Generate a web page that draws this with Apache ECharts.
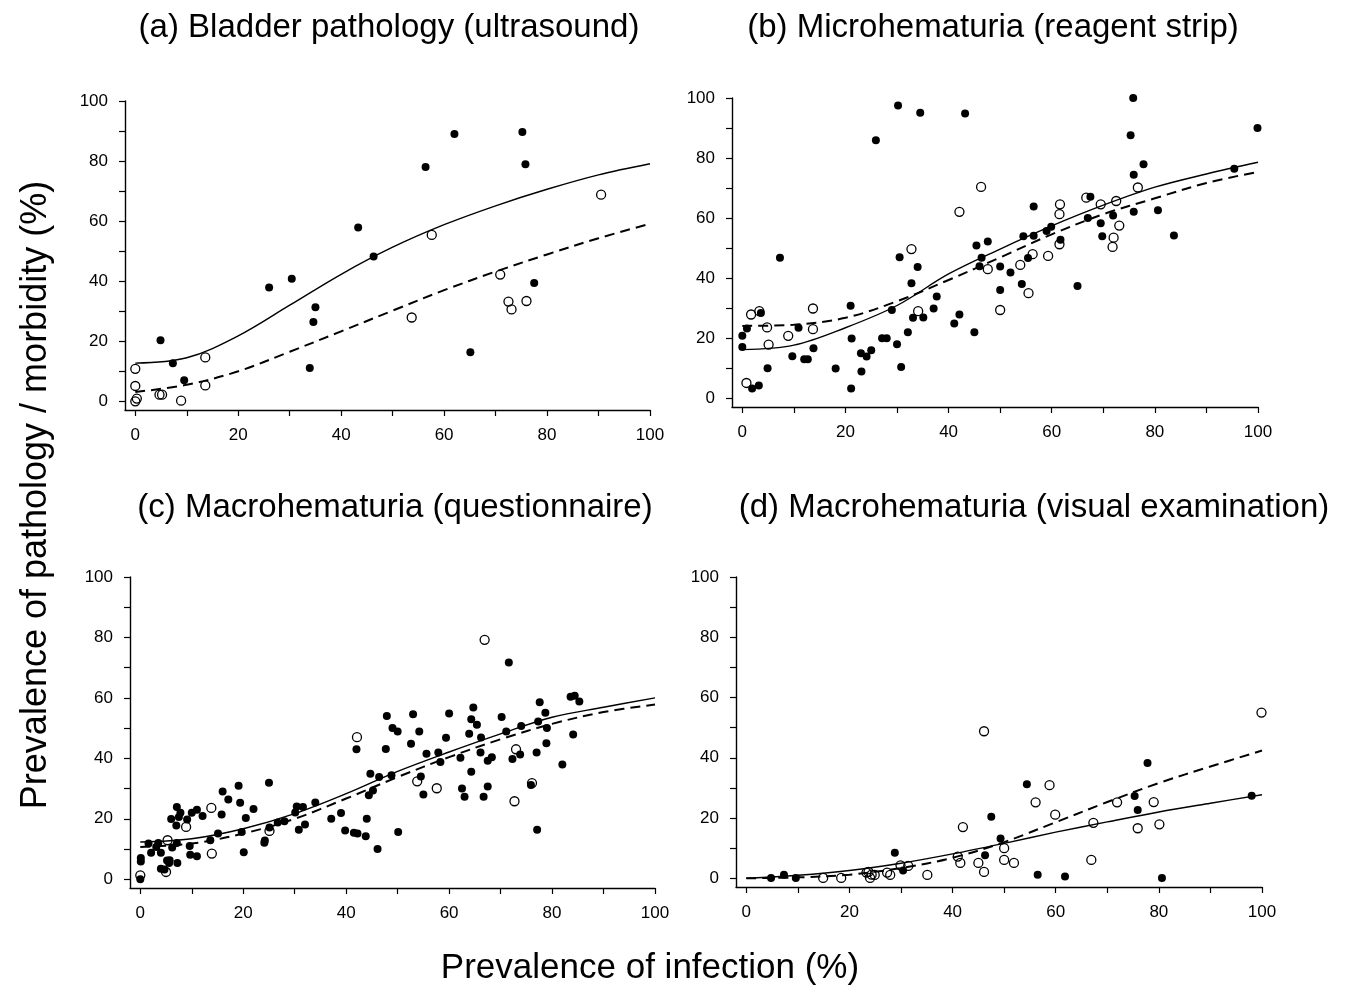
<!DOCTYPE html>
<html>
	<head>
		<meta charset="utf-8" />
		<title>Prevalence of infection vs pathology</title>
		<script type="text/javascript" src="https://cdn.jsdelivr.net/npm/echarts@6/dist/echarts.min.js"></script>
		<style type="text/css">
			html, body { margin: 0; padding: 0; background: #fff; }
			#main { width: 1364px; height: 989px; }
		</style>
	</head>
	<body>
		<div id="main"></div>
		<script type="text/javascript">
// panel titles
var titles = ['(a) Bladder pathology (ultrasound)', '(b) Microhematuria (reagent strip)',
	'(c) Macrohematuria (questionnaire)', '(d) Macrohematuria (visual examination)'];
var xTitle = 'Prevalence of infection (%)';
var yTitle = 'Prevalence of pathology / morbidity (%)';

var tickValues = [0, 10, 20, 30, 40, 50, 60, 70, 80, 90, 100];
var labelValues = [0, 20, 40, 60, 80, 100];
var fitX = [0, 10, 20, 30, 40, 50, 60, 70, 80, 90, 100];

// (a) bladder pathology
var aFilled = [[4.9,20.3],[7.3,12.7],[9.5,7.0],[26.0,37.9],[30.4,40.8],[33.9,11.1],[34.6,26.4],[35.0,31.3],
	[43.3,57.9],[46.3,48.2],[56.4,78.0],[62.0,89.0],[65.1,16.3],[75.2,89.7],[75.8,78.9],[77.5,39.4]];
var aOpen = [[0,10.8],[0,5.1],[0.3,0.9],[0,0],[4.7,2.2],[5.2,2.2],[8.9,0.2],[13.6,14.6],[13.6,5.3],
	[53.7,27.9],[57.6,55.4],[70.9,42.2],[72.5,33.2],[73.1,30.6],[76.0,33.4],[90.5,68.8]];
var aSolid = [12.7, 14.5, 21.8, 32.0, 42.3, 51.3, 58.8, 65.1, 70.6, 75.4, 79.1];
var aDashed = [3.1, 5.5, 10.0, 16.5, 23.3, 30.2, 37.0, 43.2, 48.9, 54.3, 59.1];

// (b) microhematuria
var bFilled = [[0,20.8],[0,17.1],[0.9,23.2],[1.9,3.3],[3.2,4.3],[3.6,28.4],[4.9,10.0],[7.3,46.8],[9.7,14.0],
	[10.9,23.5],[12.0,13.0],[12.7,13.0],[13.8,16.7],[18.1,9.9],[21.0,30.8],[21.2,19.9],[21.1,3.3],[23.0,15.0],
	[23.1,8.9],[24.1,13.9],[25.0,16.0],[25.9,85.9],[27.1,20.0],[28.0,20.0],[29.0,29.4],[30.0,18.0],[30.2,97.5],
	[30.5,47.0],[30.8,10.4],[32.1,22.0],[32.8,38.3],[33.1,26.8],[34.0,43.7],[34.5,95.1],[35.1,26.9],[37.1,29.9],
	[37.7,33.9],[41.1,24.9],[42.1,27.9],[43.2,94.8],[45.0,22.0],[45.4,50.9],[46.0,44.0],[46.4,46.8],[47.6,52.2],
	[50.0,36.1],[50.0,43.9],[52.0,41.9],[54.2,38.1],[54.5,54.0],[55.4,46.7],[56.5,54.1],[56.5,63.9],[59.0,55.7],
	[59.9,57.1],[61.7,52.8],[65.0,37.4],[67.0,60.0],[67.5,67.1],[69.5,58.3],[69.8,54.0],[71.9,60.9],[75.3,87.6],
	[75.8,100],[75.9,74.4],[75.9,62.1],[77.8,77.9],[80.6,62.6],[83.7,54.2],[95.4,76.4],[99.9,90.0]];
var bOpen = [[0.8,5.1],[1.7,27.9],[3.3,29.0],[4.8,23.6],[5.1,17.9],[8.9,20.8],[13.7,29.9],[13.7,23.0],
	[32.8,49.7],[34.1,29.0],[42.1,62.1],[46.3,70.4],[47.6,43.0],[50.0,29.4],[53.9,44.4],[55.5,35.0],[56.3,48.0],
	[59.3,47.4],[61.5,61.3],[61.6,64.6],[61.5,51.3],[66.7,66.8],[69.5,64.6],[71.8,50.4],[72.0,53.5],[72.5,65.7],
	[73.1,57.5],[76.7,70.2]];
var bSolid = [16.2, 17.7, 23.5, 30.9, 41.4, 49.7, 57.4, 64.3, 70.3, 74.7, 78.6];
var bDashed = [24.1, 24.5, 26.8, 32.3, 39.4, 46.9, 54.6, 61.3, 66.6, 71.7, 75.4];

// (c) macrohematuria, questionnaire
var cFilled = [[0,0],[0.1,7.0],[0.1,5.9],[1.6,11.8],[2.1,8.8],[3.1,10.7],[3.5,12.0],[4.0,8.8],[4.0,3.5],
	[4.7,3.2],[5.2,6.2],[5.6,5.4],[5.7,6.3],[6.0,19.9],[6.2,10.5],[7.1,23.9],[7.0,17.8],[7.2,5.4],[7.5,20.6],
	[7.8,22.0],[7.1,12.0],[9.1,19.8],[9.6,11.0],[9.7,8.1],[10.0,22.0],[11.0,23.0],[11.0,7.6],[12.1,20.9],
	[13.6,12.9],[15.1,15.1],[15.8,21.4],[16.0,29.0],[17.1,26.4],[19.1,30.9],[19.4,25.3],[19.7,15.6],[20.1,8.9],
	[20.5,20.3],[22.0,23.2],[24.1,12.1],[24.2,12.8],[25.0,31.9],[25.1,17.1],[26.7,18.8],[28.0,19.2],[30.1,22.1],
	[30.4,24.1],[30.8,16.4],[31.6,23.9],[32.0,18.1],[34.0,25.4],[37.1,20.0],[39.0,21.9],[39.8,16.1],[41.5,15.4],
	[42.0,43.0],[42.2,15.1],[43.8,14.2],[44.0,20.0],[44.4,27.8],[44.7,34.9],[45.2,29.4],[46.1,10.0],[46.4,33.8],
	[47.7,43.1],[47.9,54.0],[48.8,34.4],[49.0,50.0],[50.0,48.9],[50.1,15.6],[52.6,44.8],[53.0,54.6],[54.2,48.9],
	[54.5,34.0],[55.0,28.0],[55.6,41.5],[57.9,41.9],[58.3,38.8],[59.4,46.8],[60.0,54.8],[62.2,40.2],[62.5,30.0],
	[63.0,27.3],[63.9,48.1],[64.3,52.9],[64.3,35.6],[64.7,56.8],[65.4,51.1],[66.2,46.9],[66.1,41.9],[66.7,27.3],
	[67.5,39.2],[67.5,30.7],[68.3,40.4],[70.2,53.7],[71.1,48.9],[71.6,71.7],[72.3,39.8],[73.8,41.3],[74.0,50.7],
	[75.9,31.2],[77.0,41.9],[77.1,16.4],[77.3,52.2],[77.6,58.6],[78.7,55.1],[78.9,45.0],[79.0,50.0],[82.0,38.0],
	[83.6,60.4],[84.1,47.9],[84.4,60.7],[85.3,58.8]];
var cOpen = [[0,1.3],[5.0,2.4],[5.3,12.9],[8.9,17.3],[13.8,23.6],[13.9,8.5],[25.1,16.0],[42.1,47.0],
	[53.8,32.4],[57.6,30.1],[66.9,79.2],[72.7,25.8],[73.0,43.0],[76.1,31.8]];
var cSolid = [12.3, 13.4, 16.7, 21.7, 28.3, 35.7, 42.1, 48.1, 53.6, 56.9, 60.0];
var cDashed = [10.7, 11.8, 15.1, 20.0, 26.7, 33.8, 40.4, 46.3, 51.4, 55.3, 57.8];

// (d) macrohematuria, visual examination
var dFilled = [[4.8,0.1],[7.3,1.2],[9.6,0.1],[28.8,8.5],[30.4,2.6],[46.3,7.6],[47.5,20.4],[49.3,13.2],
	[54.4,31.2],[56.5,1.2],[61.8,0.6],[75.3,27.3],[75.9,22.7],[77.8,38.3],[80.6,0.1],[98.0,27.4]];
var dOpen = [[14.9,0.1],[18.4,0.1],[23.3,1.9],[23.7,2.1],[24.0,0.1],[24.3,1.2],[24.9,1.1],[27.3,1.9],
	[27.9,1.1],[29.9,4.3],[31.4,4.1],[35.1,1.1],[41.0,7.2],[41.5,5.1],[42.0,17.0],[45.0,5.1],[46.1,2.1],
	[46.1,48.8],[50.0,10.0],[50.0,6.1],[51.9,5.1],[56.1,25.2],[58.8,30.9],[59.9,21.1],[66.9,6.1],[67.3,18.4],
	[71.9,25.2],[75.9,16.6],[79.0,25.3],[80.1,17.9],[99.9,55.0]];
var dSolid = [0, 1.0, 2.6, 5.0, 8.1, 11.6, 15.3, 18.7, 22.0, 24.9, 27.7];
var dDashed = [0, 0.3, 1.2, 3.4, 6.8, 12.0, 18.6, 25.3, 31.6, 37.1, 42.4];

var panels = [
	{ filled: aFilled, open: aOpen, solid: aSolid, dashed: aDashed },
	{ filled: bFilled, open: bOpen, solid: bSolid, dashed: bDashed },
	{ filled: cFilled, open: cOpen, solid: cSolid, dashed: cDashed },
	{ filled: dFilled, open: dOpen, solid: dSolid, dashed: dDashed }
];

var font = "'Liberation Sans', Arial, sans-serif";
// grid boxes (left, top, width, height) in px
var grids = [
	{ left: 125, top: 101, width: 525, height: 309 },
	{ left: 732, top: 98, width: 526, height: 309 },
	{ left: 130, top: 577, width: 525, height: 311 },
	{ left: 736, top: 577, width: 526, height: 310 }
];
var titleCenters = [[389, 28], [993, 28], [395, 508], [1034, 508]];

function pairs(ys) {
	return fitX.map(function (x, i) { return [x, ys[i]]; });
}

var xAxes = [], yAxes = [], series = [], graphics = [];
for (var i = 0; i < 4; i++) {
	var axisCommon = {
		gridIndex: i,
		type: 'value',
		max: 100,
		axisLine: { show: true, onZero: false, lineStyle: { color: '#000', width: 1.4 } },
		axisTick: { show: true, inside: false, length: 6, customValues: tickValues, lineStyle: { color: '#000', width: 1.2 } },
		axisLabel: { customValues: labelValues, margin: 17, color: '#000', fontSize: 17, fontFamily: font },
		splitLine: { show: false }
	};
	xAxes.push(Object.assign({}, axisCommon, { min: -2 }));
	yAxes.push(Object.assign({}, axisCommon, { min: -2.9 }));

	var p = panels[i];
	series.push({
		type: 'line', xAxisIndex: i, yAxisIndex: i, data: pairs(p.solid), smooth: 0.35,
		showSymbol: false, lineStyle: { color: '#000', width: 1.4 }, z: 1
	});
	series.push({
		type: 'line', xAxisIndex: i, yAxisIndex: i, data: pairs(p.dashed), smooth: 0.35,
		showSymbol: false, lineStyle: { color: '#000', width: 2, type: [10, 6] }, z: 1
	});
	series.push({
		type: 'scatter', xAxisIndex: i, yAxisIndex: i, data: p.filled, symbol: 'circle', symbolSize: 8,
		itemStyle: { color: '#000', opacity: 1 }, clip: false, z: 2
	});
	series.push({
		type: 'scatter', xAxisIndex: i, yAxisIndex: i, data: p.open, symbol: 'circle', symbolSize: 9,
		itemStyle: { color: 'transparent', borderColor: '#000', borderWidth: 1.3, opacity: 1 }, clip: false, z: 3
	});

	graphics.push({
		type: 'text', x: titleCenters[i][0], y: titleCenters[i][1],
		style: { text: titles[i], fill: '#000', font: '33px ' + font, textAlign: 'center', textVerticalAlign: 'middle' }
	});
}

graphics.push({
	type: 'text', x: 650, y: 968,
	style: { text: xTitle, fill: '#000', font: '35px ' + font, textAlign: 'center', textVerticalAlign: 'middle' }
});
graphics.push({
	type: 'text', x: 36, y: 495, rotation: Math.PI / 2,
	style: { text: yTitle, fill: '#000', font: '36px ' + font, textAlign: 'center', textVerticalAlign: 'middle' }
});

var myChart = echarts.init(document.getElementById('main'), null, { renderer: 'canvas' });
var option = {
	backgroundColor: '#fff',
	animation: false,
	grid: grids,
	xAxis: xAxes,
	yAxis: yAxes,
	series: series,
	graphic: graphics
};
myChart.setOption(option);
		</script>
	</body>
</html>
